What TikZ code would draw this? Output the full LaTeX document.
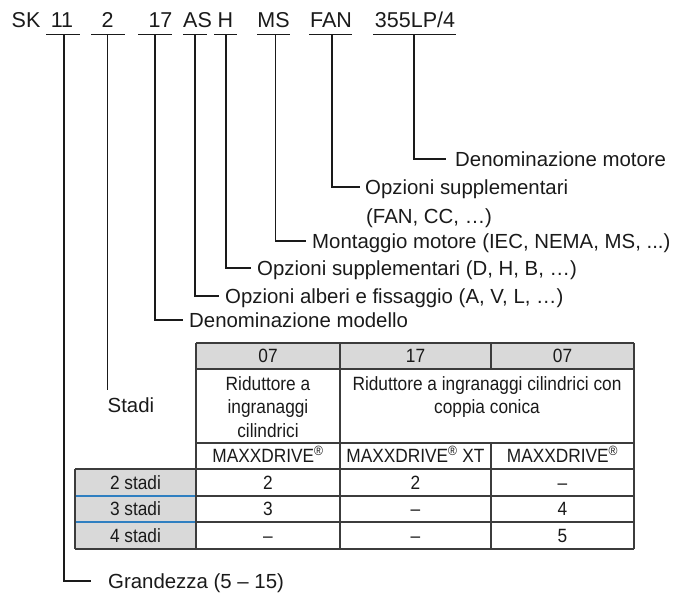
\documentclass[tikz,border=0pt]{standalone}
\usepackage{fontspec}
\setmainfont{Liberation Sans}
\newfontfamily\tabfont[FakeStretch=0.9]{Liberation Sans}
\definecolor{ink}{HTML}{1A1A1A}
\definecolor{grid}{HTML}{3C3C3C}
\definecolor{hdr}{HTML}{D9D9D9}
\definecolor{sep}{HTML}{2F7FC1}
\begin{document}
\begin{tikzpicture}[x=1pt,y=-1pt,
  ln/.style={draw=ink, line width=1.3pt},
  tl/.style={draw=grid, line width=1.2pt},
  bl/.style={draw=sep, line width=1.2pt},
  tok/.style={font=\fontsize{21.5}{25}\selectfont, text=ink, anchor=base, inner sep=0pt},
  lbl/.style={font=\fontsize{20.4}{25}\selectfont, text=ink, anchor=west, inner ysep=0pt, inner xsep=6pt, text height=14.6pt, text depth=0pt},
  cell/.style={font=\tabfont\fontsize{19.2}{23.5}\selectfont, text=ink, inner sep=0pt, text height=13.7pt, text depth=0pt},
  desc/.style={font=\tabfont\fontsize{19.2}{23.5}\selectfont, text=ink, inner sep=0pt, align=center, anchor=north},
]
\useasboundingbox (0,0) rectangle (675,594);

% type code tokens
\node[tok] (tSK)  at (26,28)    {SK};
\node[tok] (t11)  at (62,28)    {11};
\node[tok] (t2)   at (107.5,28) {2};
\node[tok] (t17)  at (160.5,28) {17};
\node[tok] (tAS)  at (197.5,28) {AS};
\node[tok] (tH)   at (225.5,28) {H};
\node[tok] (tMS)  at (273.5,28) {MS};
\node[tok] (tFAN) at (331,28)   {FAN};
\node[tok] (tMot) at (415,28)   {355LP/4};

% underlines
\foreach \a/\b in {46/80, 91/125, 138/172, 183/207, 214/237, 257/290, 309/352, 373/456}
  \draw[ln] (\a,34.5) -- (\b,34.5);

% leader start points
\coordinate (v11)  at (64,34.5);
\coordinate (v2)   at (107.5,34.5);
\coordinate (v17)  at (155,34.5);
\coordinate (vAS)  at (195,34.5);
\coordinate (vH)   at (226,34.5);
\coordinate (vMS)  at (275.5,34.5);
\coordinate (vFAN) at (332,34.5);
\coordinate (vMot) at (414,34.5);

% labels
\node[lbl, inner xsep=9pt] (lMot) at (446,159) {Denominazione motore};
\node[lbl, inner xsep=5pt] (lFAN) at (360,187) {Opzioni supplementari};
\node[lbl, inner xsep=0pt] (lFAN2) at (366,216) {(FAN, CC, …)};
\node[lbl] (lMS)  at (306,241) {Montaggio motore (IEC, NEMA, MS, ...)};
\node[lbl] (lH)   at (251,268) {Opzioni supplementari (D, H, B, …)};
\node[lbl] (lAS)  at (219,296) {Opzioni alberi e fissaggio (A, V, L, …)};
\node[lbl] (l17)  at (183,320) {Denominazione modello};
\node[lbl, anchor=north west, inner xsep=0pt, inner ysep=8pt] (lSt) at (107.5,390) {Stadi};
\node[lbl, inner xsep=17pt] (lGr) at (91,581) {Grandezza (5 – 15)};

% leaders
\draw[ln] (vMot) |- (lMot.west);
\draw[ln] (vFAN) |- (lFAN.west);
\draw[ln] (vMS)  |- (lMS.west);
\draw[ln] (vH)   |- (lH.west);
\draw[ln] (vAS)  |- (lAS.west);
\draw[ln] (v17)  |- (l17.west);
\draw[ln] (v2)   -- (lSt.north west);
\draw[ln] (v11)  |- (lGr.west);

% table fills
\fill[hdr] (196,343) rectangle (634,369);
\fill[hdr] (75,469) rectangle (196,549);

% table lines
\draw[tl] (196,343) -- (634,343);
\draw[tl] (196,369) -- (634,369);
\draw[tl] (196,443) -- (634,443);
\draw[tl] (75,469) -- (634,469);
\draw[tl] (196,496) -- (634,496);
\draw[tl] (196,522) -- (634,522);
\draw[tl] (75,549) -- (634,549);
\draw[tl] (75,469) -- (75,549);
\draw[tl] (196,343) -- (196,549);
\draw[tl] (340,343) -- (340,549);
\draw[tl] (491,343) -- (491,369);
\draw[tl] (491,443) -- (491,549);
\draw[tl] (634,343) -- (634,549);
\draw[bl] (75.6,496) -- (195.4,496);
\draw[bl] (75.6,522) -- (195.4,522);

% table header
\node[cell] (h1) at (268,356)   {07};
\node[cell] (h2) at (415.5,356) {17};
\node[cell] (h3) at (562.5,356) {07};

% descriptions
\node[desc] (d1)  at (268,376) {Riduttore a\\ingranaggi\\cilindrici};
\node[desc] (d23) at (487,376) {Riduttore a ingranaggi cilindrici con\\coppia conica};

% product line
\node[cell] (m1) at (268,456)   {MAXXDRIVE\textsuperscript{®}};
\node[cell] (m2) at (415.5,456) {MAXXDRIVE\textsuperscript{®} XT};
\node[cell] (m3) at (562.5,456) {MAXXDRIVE\textsuperscript{®}};

% stages
\node[cell] (s2) at (135.5,482.5) {2 stadi};
\node[cell] (s3) at (135.5,509)   {3 stadi};
\node[cell] (s4) at (135.5,535.5) {4 stadi};

\node[cell] (c21) at (268,482.5)   {2};
\node[cell] (c22) at (415.5,482.5) {2};
\node[cell] (c23) at (562.5,482.5) {–};
\node[cell] (c31) at (268,509)     {3};
\node[cell] (c32) at (415.5,509)   {–};
\node[cell] (c33) at (562.5,509)   {4};
\node[cell] (c41) at (268,535.5)   {–};
\node[cell] (c42) at (415.5,535.5) {–};
\node[cell] (c43) at (562.5,535.5) {5};
\end{tikzpicture}
\end{document}
